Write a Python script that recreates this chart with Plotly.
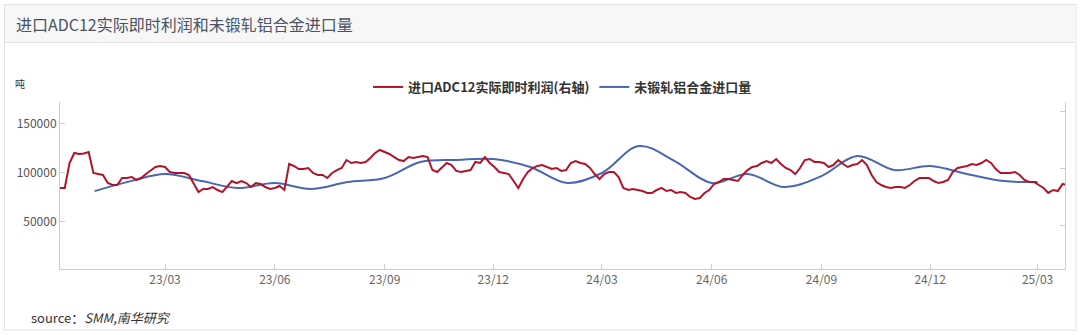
import pandas as pd
import plotly.graph_objects as go

# ---------------- data ----------------
profit_start = "2022-12-03"
profit_step = "4D"
profit_values = [
    -175, -175, 44, 132, 123, 127, 140, -44, -53, -61,
    -132, -149, -149, -88, -88, -79, -105, -88, -53, -18,
    9, 18, 9, -35, -44, -44, -44, -61, -140, -211,
    -184, -184, -167, -193, -211, -167, -114, -132, -114, -132,
    -167, -132, -140, -167, -184, -175, -158, -193, 35, 18,
    -9, -9, 0, -44, -61, -61, -88, -44, -18, 0,
    70, 44, 53, 44, 53, 88, 132, 158, 140, 123,
    96, 70, 61, 96, 88, 96, 105, 96, -18, -35,
    9, 44, 26, -26, -35, -26, -18, 53, 44, 96,
    44, 9, -35, -44, -53, -114, -175, -96, -35, 0,
    18, 26, 9, -9, 0, -26, -18, 44, 61, 44,
    35, 0, -53, -96, -53, -35, -35, -79, -175, -193,
    -184, -193, -202, -219, -219, -193, -175, -202, -193, -219,
    -211, -219, -254, -272, -263, -219, -193, -140, -123, -96,
    -96, -105, -114, -61, -18, 9, 18, 44, 61, 44,
    79, 35, 0, -18, -53, 0, 70, 79, 53, 53,
    44, 9, 26, 70, 35, 9, 26, 35, 70, 26,
    -61, -123, -149, -167, -175, -167, -167, -175, -149, -114,
    -88, -88, -88, -114, -132, -123, -105, -35, 0, 9,
    18, 35, 26, 44, 70, 44, -9, -44, -44, -44,
    -35, -61, -105, -123, -123, -149, -175, -219, -193, -202,
    -140, -149,
]
profit_dates = pd.date_range(profit_start, periods=len(profit_values), freq=profit_step)

import_months = [
    "2023-01-01", "2023-02-01", "2023-03-01", "2023-04-01", "2023-05-01", "2023-06-01",
    "2023-07-01", "2023-08-01", "2023-09-01", "2023-10-01", "2023-11-01", "2023-12-01",
    "2024-01-01", "2024-02-01", "2024-03-01", "2024-04-01", "2024-05-01", "2024-06-01",
    "2024-07-01", "2024-08-01", "2024-09-01", "2024-10-01", "2024-11-01", "2024-12-01",
    "2025-01-01", "2025-02-01", "2025-03-01",
]
import_values = [
    81300, 91700, 98700, 91500, 84400, 89500, 83400, 90500, 94600, 110900, 113000, 114000,
    105800, 89500, 99700, 127200, 111900, 89500, 98700, 85400, 96600, 117000, 102800, 106800,
    98700, 91500, 90500,
]

left_ticks = [50000, 100000, 150000]
right_ticks = [-500, 0, 500]

title_text = "进口ADC12实际即时利润和未锻轧铝合金进口量"
name_profit = "进口ADC12实际即时利润(右轴)"
name_import = "未锻轧铝合金进口量"
unit_text = "吨"
source_text = "source：<i>SMM,南华研究</i>"

# ---------------- layout helpers ----------------
W, H = 1080, 335
L, R, T, B = 60, 15, 102, 66
PW, PH = W - L - R, H - T - B


def px(x):
    return (x - L) / PW


def py(y):
    return (H - B - y) / PH


FONT = "Noto Sans CJK SC"
RED = "#B0142B"
BLUE = "#4A66B3"
AXIS = "#CCCCCC"

fig = go.Figure()
fig.add_trace(go.Scatter(
    x=profit_dates, y=profit_values, name=name_profit, yaxis="y2",
    mode="lines", line=dict(color=RED, width=2),
))
fig.add_trace(go.Scatter(
    x=import_months, y=import_values, name=name_import, yaxis="y",
    mode="lines", line=dict(color=BLUE, width=2, shape="spline", smoothing=1),
))

shapes = [
    # card
    dict(type="rect", xref="paper", yref="paper", x0=px(4.5), x1=px(1076), y0=py(330), y1=py(4.5),
         line=dict(color="#E3E3E3", width=1), fillcolor="white", layer="below"),
    # header
    dict(type="rect", xref="paper", yref="paper", x0=px(5), x1=px(1075.5), y0=py(42.5), y1=py(5),
         line=dict(width=0), fillcolor="#F7F7F7", layer="below"),
    dict(type="line", xref="paper", yref="paper", x0=px(5), x1=px(1075.5), y0=py(42.5), y1=py(42.5),
         line=dict(color="#E3E3E3", width=1), layer="below"),
]

annotations = [
    dict(text=title_text, xref="paper", yref="paper", x=px(14), y=py(24), xanchor="left", yanchor="middle",
         showarrow=False, font=dict(family=FONT, size=16, color="#4A5364")),
    dict(text=unit_text, xref="paper", yref="paper", x=px(13), y=py(83), xanchor="left", yanchor="middle",
         showarrow=False, font=dict(family=FONT, size=10, color="#333333")),
    dict(text=source_text, xref="paper", yref="paper", x=px(29), y=py(317), xanchor="left", yanchor="middle",
         showarrow=False, font=dict(family=FONT, size=13, color="#333333")),
]

fig.update_layout(
    width=W, height=H,
    margin=dict(l=L, r=R, t=T, b=B, pad=0),
    paper_bgcolor="white", plot_bgcolor="rgba(0,0,0,0)",
    font=dict(family=FONT, size=12, color="#666666"),
    showlegend=True,
    legend=dict(orientation="h", x=0.5, xanchor="center", y=py(87), yanchor="middle",
                font=dict(family=FONT, size=13, color="#333333", weight="bold"),
                bgcolor="rgba(0,0,0,0)", itemwidth=30, traceorder="normal"),
    xaxis=dict(type="date", range=["2022-12-03", "2025-03-24"], tick0="2023-03-01", dtick="M3",
               tickformat="%y/%m", ticks="inside", ticklen=5, tickcolor=AXIS, showline=True,
               linecolor=AXIS, linewidth=1, showgrid=False, zeroline=False,
               tickfont=dict(family=FONT, size=12, color="#666666")),
    yaxis=dict(range=[2000, 172000], tickvals=left_ticks, tickformat="d", ticks="inside", ticklen=5,
               tickcolor=AXIS, showline=True, linecolor=AXIS, linewidth=1, showgrid=False,
               zeroline=False, tickfont=dict(family=FONT, size=12, color="#555555")),
    yaxis2=dict(range=[-886, 579], tickvals=right_ticks, overlaying="y", side="right",
                ticks="inside", ticklen=5, tickcolor=AXIS, showline=True, linecolor=AXIS,
                linewidth=1, showgrid=False, zeroline=False, showticklabels=False),
    shapes=shapes,
    annotations=annotations,
)

fig.write_html("out.html")
